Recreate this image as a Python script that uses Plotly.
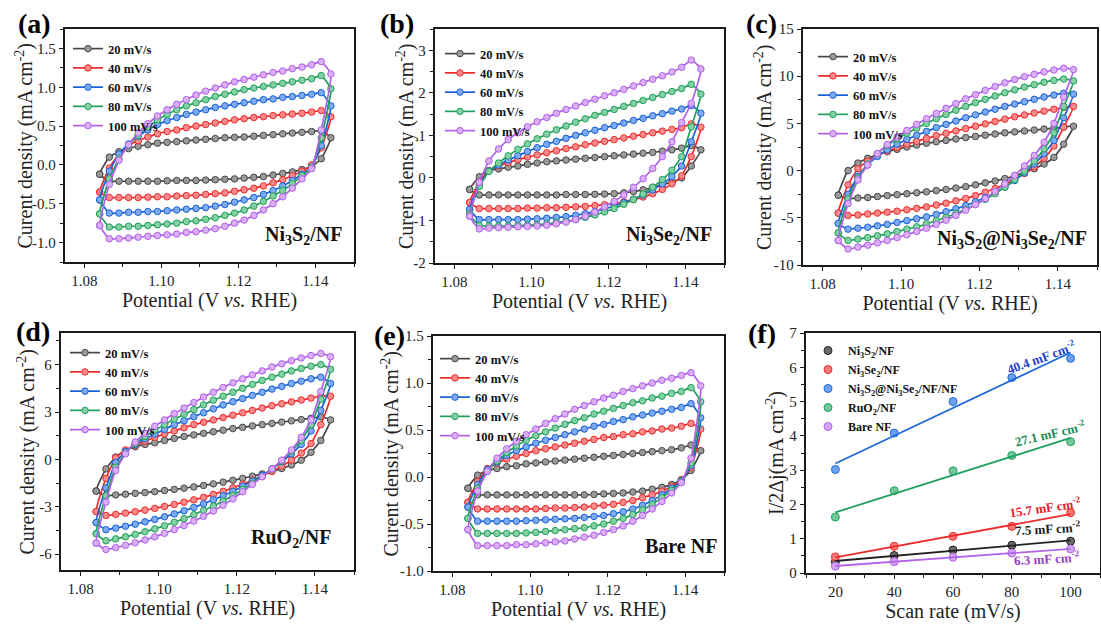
import numpy as np
import plotly.graph_objects as go

W, H = 1101, 625
FONT = "Liberation Serif"

# ---------------- data ----------------
POT = [1.0840, 1.0865, 1.0890, 1.0915, 1.0940, 1.0965, 1.0990, 1.1015, 1.1040,
       1.1065, 1.1090, 1.1115, 1.1140, 1.1165, 1.1190, 1.1215, 1.1240, 1.1265,
       1.1290, 1.1315, 1.1340, 1.1365, 1.1390, 1.1415, 1.1440]
SCAN_LABELS = ["20 mV/s", "40 mV/s", "60 mV/s", "80 mV/s", "100 mV/s"]

# (a) Ni3S2/NF
a20_up = [-0.12, 0.10, 0.17, 0.21, 0.24, 0.26, 0.28, 0.29, 0.30, 0.31, 0.32, 0.33, 0.34, 0.35, 0.355, 0.36, 0.37, 0.38, 0.39, 0.40, 0.41, 0.42, 0.43, 0.44, 0.35]
a20_lo = [-0.12, -0.21, -0.21, -0.21, -0.21, -0.21, -0.21, -0.205, -0.2, -0.2, -0.2, -0.195, -0.19, -0.185, -0.18, -0.17, -0.16, -0.15, -0.13, -0.11, -0.09, -0.06, -0.02, 0.08, 0.35]
a40_up = [-0.35, -0.04, 0.14, 0.25, 0.31, 0.36, 0.40, 0.43, 0.45, 0.48, 0.50, 0.52, 0.54, 0.56, 0.58, 0.595, 0.61, 0.62, 0.635, 0.645, 0.655, 0.665, 0.68, 0.70, 0.62]
a40_lo = [-0.35, -0.42, -0.42, -0.42, -0.42, -0.415, -0.41, -0.41, -0.40, -0.395, -0.39, -0.38, -0.37, -0.36, -0.34, -0.32, -0.30, -0.27, -0.23, -0.19, -0.14, -0.08, 0.0, 0.22, 0.62]
a60_up = [-0.45, -0.08, 0.14, 0.27, 0.37, 0.45, 0.52, 0.57, 0.61, 0.65, 0.68, 0.71, 0.74, 0.76, 0.78, 0.80, 0.82, 0.84, 0.85, 0.87, 0.88, 0.895, 0.91, 0.93, 0.76]
a60_lo = [-0.45, -0.62, -0.62, -0.61, -0.61, -0.60, -0.60, -0.59, -0.58, -0.57, -0.56, -0.55, -0.53, -0.51, -0.48, -0.45, -0.42, -0.38, -0.33, -0.27, -0.20, -0.12, -0.03, 0.25, 0.76]
a80_up = [-0.63, -0.18, 0.08, 0.25, 0.38, 0.49, 0.58, 0.65, 0.71, 0.76, 0.80, 0.84, 0.88, 0.91, 0.94, 0.97, 0.99, 1.01, 1.03, 1.05, 1.07, 1.09, 1.11, 1.15, 0.98]
a80_lo = [-0.63, -0.80, -0.80, -0.79, -0.79, -0.78, -0.77, -0.76, -0.75, -0.73, -0.72, -0.70, -0.68, -0.65, -0.62, -0.58, -0.53, -0.47, -0.40, -0.33, -0.24, -0.14, -0.03, 0.35, 0.98]
a100_up = [-0.78, -0.25, 0.06, 0.26, 0.41, 0.53, 0.63, 0.71, 0.78, 0.84, 0.90, 0.95, 0.99, 1.03, 1.07, 1.10, 1.13, 1.16, 1.19, 1.21, 1.24, 1.26, 1.29, 1.33, 1.17]
a100_lo = [-0.78, -0.95, -0.95, -0.94, -0.93, -0.92, -0.91, -0.90, -0.89, -0.87, -0.86, -0.84, -0.82, -0.79, -0.75, -0.71, -0.65, -0.58, -0.50, -0.41, -0.30, -0.18, -0.05, 0.45, 1.17]

# (b) Ni3Se2/NF
b20_up = [-0.27, 0.03, 0.17, 0.21, 0.25, 0.28, 0.32, 0.35, 0.38, 0.40, 0.42, 0.44, 0.46, 0.48, 0.50, 0.52, 0.54, 0.56, 0.58, 0.60, 0.63, 0.66, 0.70, 0.76, 0.66]
b20_lo = [-0.27, -0.40, -0.40, -0.40, -0.40, -0.40, -0.40, -0.40, -0.40, -0.40, -0.39, -0.39, -0.39, -0.385, -0.38, -0.37, -0.35, -0.32, -0.28, -0.22, -0.16, -0.10, 0.0, 0.28, 0.66]
b40_up = [-0.58, -0.10, 0.17, 0.28, 0.36, 0.43, 0.49, 0.54, 0.59, 0.64, 0.69, 0.73, 0.78, 0.82, 0.86, 0.90, 0.94, 0.98, 1.02, 1.06, 1.10, 1.14, 1.18, 1.27, 1.19]
b40_lo = [-0.58, -0.72, -0.72, -0.72, -0.72, -0.72, -0.71, -0.71, -0.70, -0.70, -0.69, -0.68, -0.67, -0.65, -0.63, -0.60, -0.56, -0.51, -0.45, -0.37, -0.27, -0.14, 0.05, 0.50, 1.19]
b60_up = [-0.74, -0.15, 0.16, 0.30, 0.42, 0.52, 0.62, 0.71, 0.79, 0.86, 0.93, 1.00, 1.06, 1.12, 1.18, 1.23, 1.29, 1.35, 1.40, 1.46, 1.51, 1.57, 1.62, 1.70, 1.52]
b60_lo = [-0.74, -0.98, -0.98, -0.98, -0.98, -0.98, -0.97, -0.96, -0.95, -0.93, -0.91, -0.88, -0.84, -0.79, -0.73, -0.66, -0.58, -0.50, -0.40, -0.28, -0.14, 0.03, 0.28, 0.85, 1.52]
b80_up = [-0.85, -0.20, 0.15, 0.35, 0.52, 0.67, 0.80, 0.92, 1.03, 1.13, 1.22, 1.31, 1.39, 1.47, 1.54, 1.61, 1.68, 1.75, 1.82, 1.89, 1.96, 2.03, 2.10, 2.20, 1.97]
b80_lo = [-0.85, -1.12, -1.13, -1.13, -1.13, -1.12, -1.11, -1.10, -1.08, -1.05, -1.02, -0.98, -0.93, -0.87, -0.80, -0.72, -0.62, -0.51, -0.38, -0.22, -0.04, 0.18, 0.50, 1.20, 1.97]
b100_up = [-0.90, -0.10, 0.40, 0.68, 0.90, 1.06, 1.20, 1.32, 1.42, 1.52, 1.61, 1.69, 1.77, 1.85, 1.93, 2.00, 2.08, 2.16, 2.24, 2.32, 2.40, 2.49, 2.60, 2.77, 2.56]
b100_lo = [-0.90, -1.20, -1.18, -1.17, -1.16, -1.15, -1.14, -1.13, -1.11, -1.08, -1.04, -0.98, -0.90, -0.80, -0.68, -0.55, -0.40, -0.22, -0.02, 0.22, 0.50, 0.85, 1.30, 1.75, 2.56]

# (c) Ni3S2@Ni3Se2/NF
c20_up = [-2.6, 0.0, 0.8, 1.3, 1.7, 2.0, 2.25, 2.5, 2.7, 2.9, 3.05, 3.2, 3.35, 3.5, 3.62, 3.75, 3.88, 4.0, 4.1, 4.2, 4.3, 4.4, 4.5, 4.62, 4.7]
c20_lo = [-2.6, -2.95, -2.9, -2.85, -2.75, -2.65, -2.55, -2.45, -2.35, -2.25, -2.12, -2.0, -1.85, -1.7, -1.5, -1.3, -1.1, -0.85, -0.55, -0.2, 0.2, 0.7, 1.4, 2.8, 4.7]
c40_up = [-4.5, -1.5, 0.2, 1.0, 1.6, 2.05, 2.45, 2.8, 3.1, 3.4, 3.7, 3.95, 4.2, 4.45, 4.7, 4.95, 5.2, 5.45, 5.7, 5.9, 6.1, 6.3, 6.5, 6.7, 6.8]
c40_lo = [-4.5, -4.75, -4.7, -4.6, -4.5, -4.4, -4.3, -4.15, -4.0, -3.85, -3.65, -3.45, -3.2, -2.95, -2.65, -2.3, -1.9, -1.45, -0.9, -0.3, 0.4, 1.3, 2.6, 4.6, 6.8]
c60_up = [-5.6, -2.5, -0.6, 0.6, 1.5, 2.2, 2.8, 3.3, 3.75, 4.15, 4.55, 4.9, 5.25, 5.6, 5.9, 6.2, 6.5, 6.8, 7.05, 7.3, 7.55, 7.8, 8.0, 8.2, 8.1]
c60_lo = [-5.6, -6.2, -6.1, -6.0, -5.85, -5.7, -5.5, -5.3, -5.1, -4.9, -4.65, -4.35, -4.05, -3.7, -3.3, -2.85, -2.35, -1.75, -1.05, -0.25, 0.7, 1.8, 3.2, 5.6, 8.1]
c80_up = [-6.6, -3.0, -0.8, 0.7, 1.8, 2.65, 3.35, 3.95, 4.5, 5.0, 5.5, 5.95, 6.4, 6.8, 7.2, 7.55, 7.9, 8.25, 8.55, 8.85, 9.1, 9.35, 9.55, 9.7, 9.5]
c80_lo = [-6.6, -7.4, -7.25, -7.1, -6.9, -6.7, -6.45, -6.2, -5.95, -5.65, -5.3, -4.95, -4.55, -4.1, -3.6, -3.05, -2.45, -1.75, -0.95, -0.05, 1.0, 2.3, 4.0, 6.8, 9.5]
c100_up = [-7.4, -3.5, -1.0, 0.6, 1.8, 2.75, 3.55, 4.25, 4.9, 5.5, 6.05, 6.6, 7.1, 7.6, 8.05, 8.5, 8.9, 9.3, 9.65, 9.95, 10.2, 10.45, 10.65, 10.85, 10.7]
c100_lo = [-7.4, -8.3, -8.1, -7.9, -7.65, -7.4, -7.1, -6.8, -6.45, -6.1, -5.7, -5.25, -4.75, -4.2, -3.6, -2.95, -2.2, -1.4, -0.5, 0.5, 1.6, 3.0, 5.0, 7.8, 10.7]

# (d) RuO2/NF
d20_up = [-2.0, -0.6, 0.15, 0.55, 0.8, 0.95, 1.05, 1.2, 1.33, 1.45, 1.55, 1.65, 1.75, 1.85, 1.95, 2.03, 2.12, 2.2, 2.28, 2.36, 2.44, 2.52, 2.6, 2.7, 2.5]
d20_lo = [-2.0, -2.3, -2.25, -2.2, -2.15, -2.1, -2.04, -1.97, -1.9, -1.82, -1.74, -1.65, -1.55, -1.44, -1.32, -1.2, -1.06, -0.92, -0.76, -0.58, -0.35, -0.05, 0.45, 1.2, 2.5]
d40_up = [-3.3, -1.2, 0.1, 0.6, 0.9, 1.15, 1.4, 1.6, 1.8, 2.0, 2.2, 2.35, 2.5, 2.65, 2.8, 2.95, 3.1, 3.25, 3.4, 3.52, 3.64, 3.76, 3.88, 4.0, 4.0]
d40_lo = [-3.3, -3.55, -3.48, -3.4, -3.31, -3.21, -3.1, -2.98, -2.85, -2.71, -2.56, -2.4, -2.22, -2.02, -1.8, -1.57, -1.32, -1.05, -0.75, -0.42, -0.05, 0.4, 1.0, 2.2, 4.0]
d60_up = [-4.0, -1.8, -0.2, 0.5, 0.95, 1.3, 1.6, 1.9, 2.2, 2.45, 2.7, 2.95, 3.2, 3.45, 3.65, 3.85, 4.05, 4.25, 4.45, 4.62, 4.8, 4.95, 5.1, 5.2, 4.8]
d60_lo = [-4.0, -4.45, -4.35, -4.23, -4.1, -3.95, -3.8, -3.63, -3.45, -3.25, -3.04, -2.81, -2.56, -2.3, -2.02, -1.7, -1.37, -1.0, -0.6, -0.15, 0.35, 0.95, 1.8, 3.1, 4.8]
d80_up = [-4.7, -2.3, -0.5, 0.4, 1.0, 1.45, 1.85, 2.2, 2.55, 2.85, 3.15, 3.45, 3.75, 4.0, 4.25, 4.5, 4.75, 5.0, 5.2, 5.4, 5.6, 5.75, 5.9, 6.0, 5.7]
d80_lo = [-4.7, -5.15, -5.03, -4.9, -4.75, -4.58, -4.4, -4.2, -3.98, -3.75, -3.5, -3.23, -2.95, -2.63, -2.28, -1.9, -1.5, -1.08, -0.62, -0.1, 0.5, 1.2, 2.2, 3.8, 5.7]
d100_up = [-5.3, -2.7, -0.7, 0.35, 1.1, 1.65, 2.1, 2.5, 2.9, 3.25, 3.6, 3.95, 4.25, 4.55, 4.85, 5.1, 5.35, 5.6, 5.85, 6.05, 6.25, 6.42, 6.57, 6.7, 6.5]
d100_lo = [-5.3, -5.7, -5.58, -5.44, -5.28, -5.1, -4.9, -4.68, -4.44, -4.18, -3.9, -3.6, -3.27, -2.9, -2.5, -2.05, -1.58, -1.1, -0.6, -0.05, 0.6, 1.4, 2.5, 4.3, 6.5]

# (e) Bare NF
e20_up = [-0.12, 0.02, 0.07, 0.09, 0.11, 0.12, 0.14, 0.15, 0.16, 0.17, 0.18, 0.19, 0.20, 0.21, 0.22, 0.23, 0.24, 0.25, 0.26, 0.27, 0.28, 0.29, 0.31, 0.34, 0.28]
e20_lo = [-0.12, -0.19, -0.19, -0.19, -0.19, -0.19, -0.19, -0.19, -0.19, -0.19, -0.19, -0.19, -0.19, -0.185, -0.18, -0.175, -0.17, -0.16, -0.15, -0.13, -0.11, -0.08, -0.03, 0.07, 0.28]
e40_up = [-0.27, -0.05, 0.09, 0.15, 0.19, 0.22, 0.25, 0.28, 0.30, 0.32, 0.34, 0.36, 0.38, 0.40, 0.42, 0.43, 0.45, 0.46, 0.48, 0.49, 0.51, 0.52, 0.54, 0.57, 0.51]
e40_lo = [-0.27, -0.34, -0.34, -0.34, -0.34, -0.34, -0.34, -0.34, -0.335, -0.33, -0.33, -0.325, -0.32, -0.31, -0.30, -0.29, -0.27, -0.25, -0.22, -0.19, -0.15, -0.10, -0.03, 0.10, 0.51]
e60_up = [-0.32, -0.08, 0.08, 0.16, 0.23, 0.28, 0.32, 0.36, 0.39, 0.42, 0.45, 0.48, 0.51, 0.54, 0.56, 0.59, 0.61, 0.64, 0.66, 0.68, 0.70, 0.72, 0.74, 0.78, 0.63]
e60_lo = [-0.32, -0.47, -0.47, -0.47, -0.47, -0.47, -0.465, -0.46, -0.455, -0.45, -0.445, -0.44, -0.43, -0.42, -0.41, -0.39, -0.37, -0.34, -0.30, -0.25, -0.19, -0.12, -0.04, 0.12, 0.63]
e80_up = [-0.44, -0.12, 0.06, 0.17, 0.26, 0.33, 0.39, 0.44, 0.48, 0.52, 0.56, 0.60, 0.63, 0.67, 0.70, 0.73, 0.76, 0.79, 0.81, 0.84, 0.86, 0.89, 0.91, 0.95, 0.80]
e80_lo = [-0.44, -0.60, -0.60, -0.60, -0.60, -0.60, -0.595, -0.59, -0.58, -0.57, -0.56, -0.55, -0.54, -0.52, -0.50, -0.47, -0.44, -0.40, -0.35, -0.29, -0.22, -0.14, -0.05, 0.15, 0.80]
e100_up = [-0.56, -0.15, 0.06, 0.20, 0.30, 0.38, 0.45, 0.51, 0.57, 0.62, 0.67, 0.72, 0.76, 0.80, 0.84, 0.87, 0.91, 0.94, 0.97, 1.00, 1.03, 1.05, 1.08, 1.11, 0.97]
e100_lo = [-0.56, -0.73, -0.73, -0.73, -0.73, -0.72, -0.72, -0.71, -0.70, -0.69, -0.68, -0.66, -0.64, -0.62, -0.59, -0.56, -0.52, -0.47, -0.41, -0.34, -0.26, -0.17, -0.06, 0.20, 0.97]

# (f) double-layer capacitance
F_RATES = [20, 40, 60, 80, 100]
f_ni3s2 = [0.33, 0.51, 0.67, 0.81, 0.93]
f_ni3se2 = [0.47, 0.78, 1.07, 1.36, 1.76]
f_hetero = [3.02, 4.08, 5.00, 5.70, 6.26]
f_ruo2 = [1.63, 2.40, 2.98, 3.43, 3.83]
f_bare = [0.20, 0.33, 0.46, 0.58, 0.70]
F_NAMES = ["Ni<sub>3</sub>S<sub>2</sub>/NF", "Ni<sub>3</sub>Se<sub>2</sub>/NF",
           "Ni<sub>3</sub>S<sub>2</sub>@Ni<sub>3</sub>Se<sub>2</sub>/NF/NF", "RuO<sub>2</sub>/NF", "Bare NF"]
F_CDL = ["7.5", "15.7", "40.4", "27.1", "6.3"]

X_TICKS = [1.08, 1.10, 1.12, 1.14]
X_TICKTEXT = ["1.08", "1.10", "1.12", "1.14"]

# ---------------- styles ----------------
CV_COLORS = ["#474747", "#ee2b2b", "#1a62d6", "#22a05a", "#b15fe8"]
CV_FILLS = ["#9a9a9a", "#f78a8a", "#7eaaf0", "#83d0a4", "#d9b0f6"]
F_COLORS = ["#222222", "#ee2b2b", "#1f6ad6", "#22a060", "#b364e8"]
F_FILLS = ["#6a6a6a", "#f47a7a", "#6e9ff0", "#72c89a", "#d2a6f4"]
F_TEXT_COLORS = ["#1c1c1c", "#e4202a", "#1f3fd0", "#1e8a58", "#9b3cc8"]

# pixel boxes (left, top, right, bottom)
BOXES = [(65, 29, 354, 262), (435, 29, 724, 263), (803, 29, 1097, 265),
         (61, 333, 354, 570), (433, 336, 724, 571), (806, 333, 1100, 573)]
YTITLE_X = [24, 405, 764, 26, 390, 775]

panels = [
    dict(curves=[(a20_up, a20_lo), (a40_up, a40_lo), (a60_up, a60_lo), (a80_up, a80_lo), (a100_up, a100_lo)],
         yrange=[-1.25, 1.75], yticks=[-1.0, -0.5, 0.0, 0.5, 1.0, 1.5], ytext=["-1.0", "-0.5", "0.0", "0.5", "1.0", "1.5"],
         yminor=0.25, name="Ni<sub>3</sub>S<sub>2</sub>/NF", legend_px=(68, 34), name_px=(344, 236)),
    dict(curves=[(b20_up, b20_lo), (b40_up, b40_lo), (b60_up, b60_lo), (b80_up, b80_lo), (b100_up, b100_lo)],
         yrange=[-2, 3.5], yticks=[-2, -1, 0, 1, 2, 3], ytext=["-2", "-1", "0", "1", "2", "3"],
         yminor=0.5, name="Ni<sub>3</sub>Se<sub>2</sub>/NF", legend_px=(440, 39), name_px=(714, 236)),
    dict(curves=[(c20_up, c20_lo), (c40_up, c40_lo), (c60_up, c60_lo), (c80_up, c80_lo), (c100_up, c100_lo)],
         yrange=[-10, 15], yticks=[-10, -5, 0, 5, 10, 15], ytext=["-10", "-5", "0", "5", "10", "15"],
         yminor=2.5, name="Ni<sub>3</sub>S<sub>2</sub>@Ni<sub>3</sub>Se<sub>2</sub>/NF", legend_px=(813, 42), name_px=(1089, 239)),
    dict(curves=[(d20_up, d20_lo), (d40_up, d40_lo), (d60_up, d60_lo), (d80_up, d80_lo), (d100_up, d100_lo)],
         yrange=[-7, 8], yticks=[-6, -3, 0, 3, 6], ytext=["-6", "-3", "0", "3", "6"],
         yminor=1.5, name="RuO<sub>2</sub>/NF", legend_px=(65, 338), name_px=(333, 538)),
    dict(curves=[(e20_up, e20_lo), (e40_up, e40_lo), (e60_up, e60_lo), (e80_up, e80_lo), (e100_up, e100_lo)],
         yrange=[-1.0, 1.5], yticks=[-1.0, -0.5, 0.0, 0.5, 1.0, 1.5], ytext=["-1.0", "-0.5", "0.0", "0.5", "1.0", "1.5"],
         yminor=0.25, name="Bare NF", legend_px=(435, 344), name_px=(719, 546)),
]
TAG_PX = [(34, 24), (397, 24), (761, 24), (33, 331), (389, 335), (762, 333)]

TICK_FONT = dict(family=FONT, size=15, color="#222")
TITLE_FONT = dict(family=FONT, size=20, color="#222")

fig = go.Figure()

def axis_common():
    return dict(showline=True, linecolor="#1a1a1a", linewidth=1.6, mirror=True,
                ticks="outside", ticklen=4.5, tickwidth=1.4, tickcolor="#1a1a1a",
                showgrid=False, zeroline=False, automargin=False,
                tickfont=TICK_FONT)

for i, box in enumerate(BOXES):
    l, t, r, b = box
    xn = "xaxis" if i == 0 else f"xaxis{i+1}"
    yn = "yaxis" if i == 0 else f"yaxis{i+1}"
    xa = axis_common()
    ya = axis_common()
    xa.update(domain=[l / W, r / W], anchor=f"y{i+1}" if i else "y")
    ya.update(domain=[1 - b / H, 1 - t / H], anchor=f"x{i+1}" if i else "x")
    if i < 5:
        p = panels[i]
        xa.update(range=[1.075, 1.15], tickmode="array", tickvals=X_TICKS, ticktext=X_TICKTEXT,
                  minor=dict(dtick=0.01, tick0=1.08, ticks="outside", ticklen=3, tickcolor="#1a1a1a"),
                  title=dict(text="Potential (V <i>vs.</i> RHE)", standoff=5, font=TITLE_FONT))
        ya.update(range=p["yrange"], tickmode="array", tickvals=p["yticks"], ticktext=p["ytext"],
                  minor=dict(dtick=p["yminor"], tick0=0, ticks="outside", ticklen=3, tickcolor="#1a1a1a"))
        ytitle = "Curent density (mA cm<sup>-2</sup>)"
    else:
        xa.update(range=[10, 110], tickmode="array", tickvals=F_RATES, ticktext=[str(v) for v in F_RATES],
                  minor=dict(dtick=10, tick0=10, ticks="outside", ticklen=3, tickcolor="#1a1a1a"),
                  title=dict(text="Scan rate (mV/s)", standoff=5, font=TITLE_FONT))
        ya.update(range=[0, 7], tickmode="array", tickvals=[0, 1, 2, 3, 4, 5, 6, 7],
                  ticktext=["0", "1", "2", "3", "4", "5", "6", "7"],
                  minor=dict(dtick=0.5, tick0=0, ticks="outside", ticklen=3, tickcolor="#1a1a1a"))
        ytitle = "I/2\u0394j(mA cm<sup>-2</sup>)"
    fig.update_layout({xn: xa, yn: ya})
    fig.add_annotation(x=YTITLE_X[i] / W, y=1 - (t + b) / 2 / H, xref="paper", yref="paper",
                       xanchor="center", yanchor="middle", textangle=-90, showarrow=False,
                       text=ytitle, font=TITLE_FONT)

# CV panels
for i, p in enumerate(panels):
    leg = "legend" if i == 0 else f"legend{i+1}"
    xr = "x" if i == 0 else f"x{i+1}"
    yr = "y" if i == 0 else f"y{i+1}"
    for k, (up, lo) in enumerate(p["curves"]):
        xs = POT + POT[::-1][1:]
        ys = up + lo[::-1][1:]
        fig.add_trace(go.Scatter(
            x=xs, y=ys, mode="lines+markers", name=SCAN_LABELS[k], legend=leg,
            xaxis=xr, yaxis=yr,
            line=dict(color=CV_COLORS[k], width=1.7, shape="spline", smoothing=0.4),
            marker=dict(size=6.5, color=CV_FILLS[k], line=dict(color=CV_COLORS[k], width=1))))
    lx, ly = p["legend_px"]
    fig.update_layout({leg: dict(x=lx / W, y=1 - ly / H, xanchor="left", yanchor="top",
                                 bgcolor="rgba(0,0,0,0)", borderwidth=0, itemwidth=30,
                                 tracegroupgap=0, itemclick=False,
                                 font=dict(family=FONT, size=12.5, color="#111", weight="bold"))})
    nx, ny = p["name_px"]
    fig.add_annotation(x=nx / W, y=1 - ny / H, xref="paper", yref="paper", xanchor="right", yanchor="middle",
                       text=p["name"], showarrow=False,
                       font=dict(family=FONT, size=20, color="#111", weight="bold"))

# panel (f)
f_series = [f_ni3s2, f_ni3se2, f_hetero, f_ruo2, f_bare]
for k, vals in enumerate(f_series):
    fig.add_trace(go.Scatter(
        x=F_RATES, y=vals, mode="markers", name=F_NAMES[k], legend="legend6",
        xaxis="x6", yaxis="y6",
        marker=dict(size=8, color=F_FILLS[k], line=dict(color=F_COLORS[k], width=1))))
for k, vals in enumerate(f_series):
    slope, icpt = np.polyfit(F_RATES, vals, 1)
    xs = [F_RATES[0], F_RATES[-1]]
    fig.add_trace(go.Scatter(
        x=xs, y=[slope * v + icpt for v in xs], mode="lines", showlegend=False,
        xaxis="x6", yaxis="y6", line=dict(color=F_COLORS[k], width=1.8)))
fig.update_layout(legend6=dict(x=808 / W, y=1 - 336 / H, xanchor="left", yanchor="top",
                               bgcolor="rgba(0,0,0,0)", borderwidth=0, itemwidth=30, tracegroupgap=0,
                               font=dict(family=FONT, size=12, color="#111", weight="bold")))

CDL_POS = [(92.3, 1.31, -3), (91.3, 1.93, -8), (89.8, 6.31, -20), (93.0, 4.08, -13), (92.0, 0.44, -3)]
for k in range(5):
    ax_, ay_, ang = CDL_POS[k]
    fig.add_annotation(x=ax_, y=ay_, xref="x6", yref="y6", text=f"{F_CDL[k]} mF cm<sup>-2</sup>",
                       showarrow=False, textangle=ang,
                       font=dict(family=FONT, size=13, color=F_TEXT_COLORS[k], weight="bold"))

for i, (tx, ty) in enumerate(TAG_PX):
    fig.add_annotation(x=tx / W, y=1 - ty / H, xref="paper", yref="paper", xanchor="center", yanchor="middle",
                       text="(" + "abcdef"[i] + ")", showarrow=False,
                       font=dict(family=FONT, size=28, color="#000", weight="bold"))

fig.update_layout(width=W, height=H, margin=dict(l=0, r=0, t=0, b=0),
                  paper_bgcolor="white", plot_bgcolor="white",
                  font=dict(family=FONT, color="#222"))

fig.write_html("out.html")
